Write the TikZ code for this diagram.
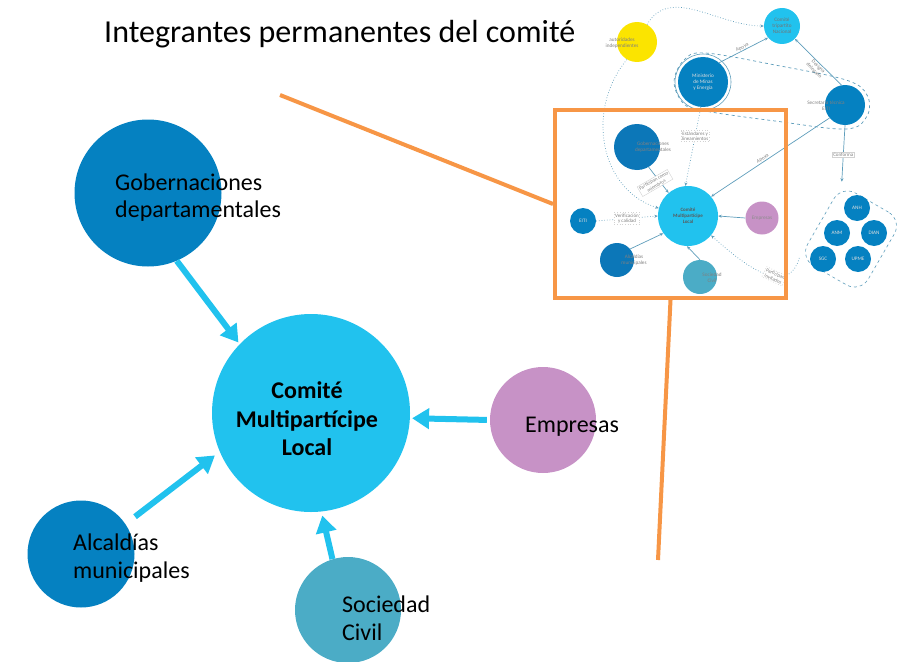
\documentclass[tikz,border=0pt]{standalone}
\usepackage{fontspec}
\setmainfont{Carlito}
\usetikzlibrary{arrows.meta}
\definecolor{gobblue}{HTML}{0581C1}
\definecolor{thblue}{HTML}{0C77B8}
\definecolor{comcyan}{HTML}{21C2EE}
\definecolor{socteal}{HTML}{4BACC6}
\definecolor{empurple}{HTML}{C792C6}
\definecolor{orangeline}{HTML}{F79646}
\definecolor{thumbline}{HTML}{5E9DBB}
\definecolor{yel}{HTML}{FBE400}
\begin{document}
\begin{tikzpicture}[x=1pt,y=-1pt,
  bubble/.style={circle, inner sep=0pt, minimum size=#1},
  lbl/.style={anchor=base west, inner sep=0pt, font=\fontsize{24}{28}\selectfont},
  clbl/.style={anchor=base, inner sep=0pt, font=\fontsize{24}{28}\selectfont\bfseries},
  bigarrow/.style={draw=comcyan, line width=6pt, -{Triangle[length=17pt,width=20pt]}},
  tb/.style={circle, inner sep=0pt, minimum size=#1, font=\fontsize{5.2}{5.8}\selectfont, text=white!75!gray, align=center},
  ttext/.style={inner sep=0pt, font=\fontsize{5.2}{5.8}\selectfont, text=gray, align=center},
  tl/.style={draw=thumbline, line width=0.7pt},
  tdot/.style={tl, dotted},
  tarr/.style={-{Stealth[length=3.5pt,width=3pt]}},
  tbox/.style={draw=gray!35, fill=white, inner sep=1pt, font=\fontsize{5}{5.6}\selectfont, text=gray, align=center},
  frame/.style={draw=orangeline, line width=4pt}
]
\useasboundingbox (0,0) rectangle (912,661);

% ---------- title
\node[anchor=base west, inner sep=0pt, font=\fontsize{32}{36}\selectfont] (title) at (104,43) {Integrantes permanentes del comité};

% ---------- thumbnail (miniature of the full diagram)
\node[tb=40, fill=yel] (ty) at (637,42) {};
\node[ttext] (tyt) at (622,43) {autoridades\\independientes};
\node[tb=36, fill=comcyan, text=black!55] (tt) at (782,26) {Comité\\tripartito\\Nacional};
\node[tb=50, fill=gobblue] (tm) at (703,82) {Ministerio\\de Minas\\y Energía};
\draw[thumbline, line width=0.6pt] (tm) circle[radius=28];
\node[tb=40, fill=gobblue] (ts) at (845,105) {};
\node[ttext] (tst) at (826,106) {Secretaría técnica\\EITI};
\draw[tl, dashed] plot[smooth cycle, tension=0.6] coordinates {(674,82) (684,60) (705,53) (775,65) (846,80) (867,95) (867,116) (846,129) (775,121) (705,111) (684,104)};
\node[tb=46, fill=thblue] (tg) at (637,147) {};
\node[ttext] (tgt) at (653,147) {Gobernaciones\\departamentales};
\node[tb=60, fill=comcyan, text=black!65, font=\fontsize{5}{5.8}\selectfont\bfseries] (tc) at (688,216) {Comité\\Multipartícipe\\Local};
\node[tb=26, fill=gobblue] (te) at (583,221) {EITI};
\node[tb=33, fill=empurple, text=black!45] (tp) at (762,218) {Empresas};
\node[tb=34, fill=thblue] (ta) at (617,260) {};
\node[ttext] (tat) at (634,260) {Alcaldías\\municipales};
\node[tb=34, fill=socteal] (tsc) at (700,277) {};
\node[ttext] (tsct) at (712,278) {Sociedad\\Civil};
\node[draw=thumbline, dashed, line width=0.6pt, rounded corners=16pt, minimum width=70pt, minimum height=84pt, rotate=-30] (tgrp) at (851,239) {};
\node[tb=26, fill=gobblue] (g1) at (857,208) {ANH};
\node[tb=26, fill=gobblue] (g2) at (837,233) {ANM};
\node[tb=26, fill=gobblue] (g3) at (874,233) {DIAN};
\node[tb=26, fill=gobblue] (g4) at (823,259) {SGC};
\node[tb=26, fill=gobblue] (g5) at (858,259) {UPME};

% thumbnail connectors
\draw[tdot, tarr] (ty.60) to[out=60, in=180] (tt.west);
\draw[tdot, tarr] (ty.240) .. controls (585,110) and (600,190) .. (tc.165);
\draw[tl, tarr] (tm.50) -- node[sloped, above=0.5pt, ttext] (l1) {Apoya} (tt.220);
\draw[tl, tarr] (ts.100) -- node[sloped, below=0.8pt, ttext, pos=0.45] (l2) {Designa\\delegado} (tt.-45);
\draw[tl, tarr, shorten >=3pt] (ts.south) -- node[tbox] (l3) {Conforma} (tgrp.north west);
\draw[tl, tarr] (ts.220) -- node[sloped, above=0.5pt, ttext, pos=0.55] (l4) {Apoya} (tc.40);
\draw[tdot, tarr] (tm.265) -- node[tbox, pos=0.37] (l5) {Estándares y\\lineamientos} (tc.95);
\draw[tl, tarr] (tg.-60) -- (tc.130);
\node[tbox, rotate=30] (l6) at (655,183) {Participan como\\miembros};
\draw[tdot, tarr] (te.east) -- node[tbox] (l7) {Verificación\\y calidad} (tc.180);
\draw[tl, tarr] (tp.west) -- (tc.0);
\draw[tl, tarr] (ta.40) -- (tc.215);
\draw[tl, tarr] (tsc.north) -- (tc.268);
\draw[tdot, tarr] (tgrp.south west) .. controls (790,290) and (760,280) .. node[tbox, pos=0.45, rotate=-25] (l8) {Participan\\invitados} (tc.-40);

% ---------- main diagram
\node[bubble=147, fill=gobblue] (gob) at (148,193) {};
\node[bubble=198, fill=comcyan] (com) at (311,413) {};
\node[bubble=107, fill=gobblue] (alc) at (81,554) {};
\node[bubble=106, fill=socteal] (soc) at (348,610) {};
\node[bubble=106, fill=empurple] (emp) at (543,420) {};

\node[lbl] (gobt1) at (115,190) {Gobernaciones};
\node[lbl] (gobt2) at (115,217) {departamentales};
\node[clbl] (comt1) at (307,398) {Comité};
\node[clbl] (comt2) at (307,427) {Multipartícipe};
\node[clbl] (comt3) at (307,455) {Local};
\node[lbl] (alct1) at (73,550) {Alcaldías};
\node[lbl] (alct2) at (73,578) {municipales};
\node[lbl] (soct1) at (342,612) {Sociedad};
\node[lbl] (soct2) at (342,640) {Civil};
\node[lbl] (empt) at (525,432) {Empresas};

\draw[bigarrow, shorten >=2pt] (gob.-67) -- (com.136);
\draw[bigarrow, shorten <=12pt, shorten >=6pt] (alc.34) -- (com.203);
\draw[bigarrow, shorten >=4pt] (soc.107) -- (com.-84);
\draw[bigarrow, shorten <=3pt, shorten >=2pt] (emp.180) -- (com.-3);

% ---------- orange zoom frame
\node[frame, minimum width=231pt, minimum height=188pt, inner sep=0pt] (zoomframe) at (670.5,204) {};
\coordinate (ostart) at (280,95);
\coordinate (oend) at (658,560);
\draw[frame] (ostart) -- (zoomframe.west);
\draw[frame] (zoomframe.south) -- (oend);
\end{tikzpicture}
\end{document}
